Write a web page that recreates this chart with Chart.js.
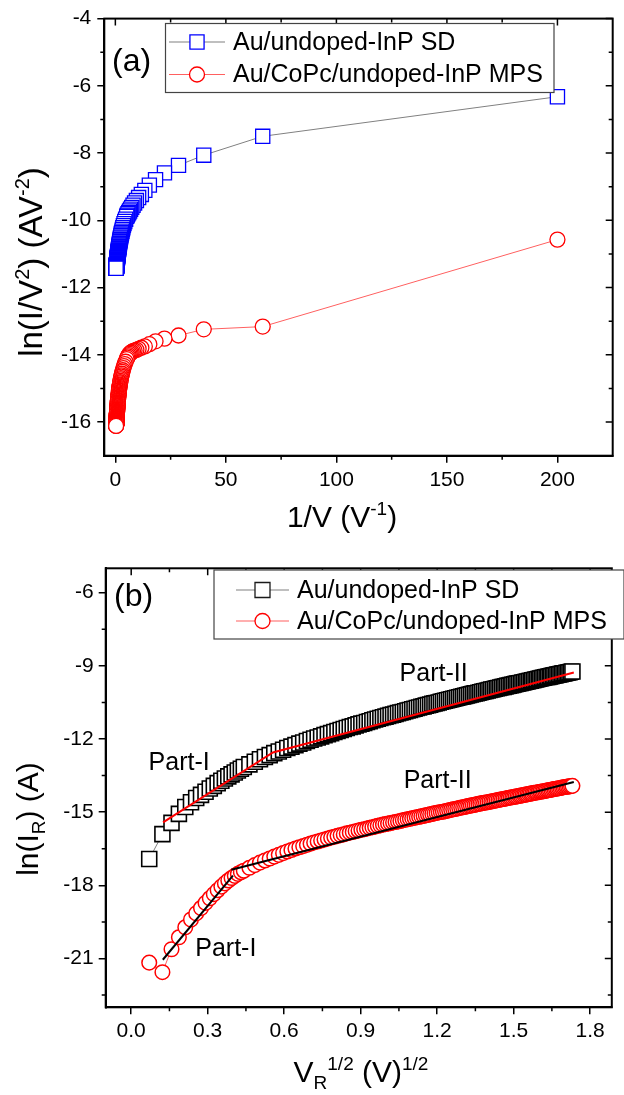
<!DOCTYPE html>
<html>
<head>
<meta charset="utf-8">
<script src="https://cdn.jsdelivr.net/npm/chart.js@4.4.0/dist/chart.umd.min.js"></script>
<style>
  body { margin: 0; background: #fff; width: 624px; height: 1095px; overflow: hidden; }
  #chartA { position: absolute; left: 0; top: 0; }
  #chartB { position: absolute; left: 0; top: 540px; }
</style>
</head>
<body>
<canvas id="chartA" width="624" height="540"></canvas>
<canvas id="chartB" width="624" height="555"></canvas>
<script>
// reverse bias points (V), same sweep for both diodes
const biasV = [
  0.005, 0.015, 0.025, 0.035, 0.045, 0.055, 0.065, 0.075, 0.085, 0.095,
  0.105, 0.115, 0.125, 0.135, 0.145, 0.155, 0.165, 0.175, 0.185, 0.195,
  0.215, 0.235, 0.255, 0.275, 0.295, 0.315, 0.335, 0.355, 0.375, 0.395,
  0.415, 0.435, 0.455, 0.475, 0.495, 0.515, 0.535, 0.555, 0.575, 0.595,
  0.615, 0.635, 0.655, 0.675, 0.695, 0.715, 0.735, 0.755, 0.775, 0.795,
  0.815, 0.835, 0.855, 0.875, 0.895, 0.915, 0.935, 0.955, 0.975, 0.995,
  1.015, 1.035, 1.055, 1.075, 1.095, 1.115, 1.135, 1.155, 1.175, 1.195,
  1.215, 1.235, 1.255, 1.275, 1.295, 1.315, 1.335, 1.355, 1.375, 1.395,
  1.415, 1.435, 1.455, 1.475, 1.495, 1.515, 1.535, 1.555, 1.575, 1.595,
  1.615, 1.635, 1.655, 1.675, 1.695, 1.715, 1.735, 1.755, 1.775, 1.795,
  1.815, 1.835, 1.855, 1.875, 1.895, 1.915, 1.935, 1.955, 1.975, 1.995,
  2.015, 2.035, 2.055, 2.075, 2.095, 2.115, 2.135, 2.155, 2.175, 2.195,
  2.215, 2.235, 2.255, 2.275, 2.295, 2.315, 2.335, 2.355, 2.375, 2.395,
  2.415, 2.435, 2.455, 2.475, 2.495, 2.515, 2.535, 2.555, 2.575, 2.595,
  2.615, 2.635, 2.655, 2.675, 2.695, 2.715, 2.735, 2.755, 2.775, 2.795,
  2.815, 2.835, 2.855, 2.875, 2.895, 2.915, 2.935, 2.955, 2.975, 2.995
];

// ln(I_R) in A, one value per bias point
const lnI_SD = [
  -16.92, -15.90, -15.44, -15.07, -14.79, -14.59, -14.42, -14.29, -14.16, -14.03,
  -13.92, -13.81, -13.71, -13.62, -13.53, -13.45, -13.37, -13.29, -13.22, -13.15,
  -13.04, -12.93, -12.83, -12.74, -12.66, -12.58, -12.51, -12.44, -12.37, -12.31,
  -12.25, -12.19, -12.14, -12.08, -12.03, -11.98, -11.94, -11.89, -11.84, -11.80,
  -11.76, -11.71, -11.67, -11.63, -11.59, -11.55, -11.51, -11.48, -11.44, -11.40,
  -11.37, -11.34, -11.30, -11.27, -11.23, -11.20, -11.17, -11.14, -11.11, -11.08,
  -11.05, -11.02, -11.00, -10.97, -10.94, -10.91, -10.89, -10.86, -10.83, -10.81,
  -10.78, -10.76, -10.73, -10.71, -10.68, -10.66, -10.63, -10.61, -10.59, -10.56,
  -10.54, -10.52, -10.50, -10.47, -10.45, -10.43, -10.41, -10.39, -10.37, -10.35,
  -10.33, -10.31, -10.29, -10.27, -10.25, -10.23, -10.21, -10.19, -10.17, -10.15,
  -10.13, -10.12, -10.10, -10.08, -10.06, -10.04, -10.03, -10.01, -9.99, -9.97,
  -9.96, -9.94, -9.92, -9.91, -9.89, -9.87, -9.86, -9.84, -9.82, -9.81,
  -9.79, -9.78, -9.76, -9.74, -9.73, -9.71, -9.70, -9.68, -9.67, -9.65,
  -9.64, -9.62, -9.61, -9.59, -9.58, -9.56, -9.55, -9.53, -9.52, -9.50,
  -9.49, -9.47, -9.46, -9.45, -9.43, -9.42, -9.40, -9.39, -9.38, -9.36,
  -9.35, -9.34, -9.32, -9.31, -9.30, -9.28, -9.27, -9.26, -9.24, -9.23
];
const lnI_MPS = [
  -21.17, -21.56, -20.62, -20.13, -19.72, -19.40, -19.15, -18.93, -18.72, -18.53,
  -18.36, -18.20, -18.05, -17.92, -17.80, -17.70, -17.61, -17.53, -17.46, -17.40,
  -17.28, -17.17, -17.07, -16.98, -16.90, -16.82, -16.75, -16.68, -16.61, -16.55,
  -16.49, -16.44, -16.39, -16.34, -16.29, -16.24, -16.20, -16.16, -16.12, -16.08,
  -16.04, -16.01, -15.97, -15.94, -15.91, -15.87, -15.84, -15.81, -15.78, -15.75,
  -15.72, -15.70, -15.67, -15.64, -15.62, -15.59, -15.56, -15.54, -15.51, -15.49,
  -15.47, -15.45, -15.42, -15.40, -15.38, -15.36, -15.33, -15.31, -15.29, -15.27,
  -15.25, -15.23, -15.21, -15.19, -15.17, -15.15, -15.13, -15.11, -15.09, -15.07,
  -15.05, -15.03, -15.01, -14.99, -14.98, -14.96, -14.94, -14.92, -14.90, -14.88,
  -14.87, -14.85, -14.83, -14.81, -14.80, -14.78, -14.76, -14.74, -14.73, -14.71,
  -14.70, -14.68, -14.66, -14.65, -14.63, -14.62, -14.60, -14.59, -14.57, -14.56,
  -14.54, -14.53, -14.51, -14.50, -14.48, -14.47, -14.46, -14.44, -14.43, -14.41,
  -14.40, -14.39, -14.37, -14.36, -14.35, -14.33, -14.32, -14.31, -14.29, -14.28,
  -14.27, -14.25, -14.24, -14.23, -14.21, -14.20, -14.19, -14.17, -14.16, -14.15,
  -14.14, -14.13, -14.11, -14.10, -14.09, -14.08, -14.06, -14.05, -14.04, -14.03,
  -14.02, -14.01, -13.99, -13.98, -13.97, -13.96, -13.95, -13.94, -13.93, -13.92
];

// linear fits in the ln(I_R) vs V^1/2 plot (Part-I / Part-II)
const fitSD_x = [0.125, 0.556, 1.736];
const fitSD_y = [-15.42, -12.55, -9.27];
const fitMPS1_x = [0.124, 0.399];
const fitMPS1_y = [-21.05, -17.60];
const fitMPS2_x = [0.393, 1.736];
const fitMPS2_y = [-17.36, -13.76];

const seriesNames = ['Au/undoped-InP SD', 'Au/CoPc/undoped-InP MPS'];

const ticksA_x = [0, 50, 100, 150, 200];
const ticksA_y = [-16, -14, -12, -10, -8, -6, -4];
const minorA_x = [25, 75, 125, 175];
const minorA_y = [-15, -13, -11, -9, -7, -5];
const ticksB_x = [0, 0.3, 0.6, 0.9, 1.2, 1.5, 1.8];
const ticksB_y = [-21, -18, -15, -12, -9, -6];
const minorB_x = [0.15, 0.45, 0.75, 1.05, 1.35, 1.65];
const minorB_y = [-22.5, -19.5, -16.5, -13.5, -10.5, -7.5];

const partText = ['Part-II', 'Part-I', 'Part-II', 'Part-I'];
const partX = [1.186, 0.188, 1.202, 0.371];
const partY = [-9.35, -13.0, -13.72, -20.61];

const FONT = "'Liberation Sans', Arial, sans-serif";
Chart.defaults.font.family = FONT;
Chart.defaults.color = '#000';

// Richardson-type plot: ln(I/V^2) against 1/V
const richSD = biasV.map((v, i) => ({ x: 1 / v, y: lnI_SD[i] - 2 * Math.log(v) }));
const richMPS = biasV.map((v, i) => ({ x: 1 / v, y: lnI_MPS[i] - 2 * Math.log(v) }));
// Schottky-type plot: ln(I_R) against V^1/2
const schSD = biasV.map((v, i) => ({ x: Math.sqrt(v), y: lnI_SD[i] }));
const schMPS = biasV.map((v, i) => ({ x: Math.sqrt(v), y: lnI_MPS[i] }));
const pts = (xs, ys) => xs.map((x, i) => ({ x: x, y: ys[i] }));

function axis(min, max, ticks, fmt, fit, pad) {
  return {
    type: 'linear', min: min, max: max,
    afterBuildTicks: s => { s.ticks = ticks.map(v => ({ value: v })); },
    afterFit: fit,
    ticks: { font: { size: 21 }, color: '#000', padding: pad, callback: fmt },
    grid: { display: true, drawOnChartArea: false, drawTicks: true, tickLength: 7, color: '#000', lineWidth: 1.5 },
    border: { display: true, color: '#000', width: 2 }
  };
}

// text with super/subscripts: parts = [[text, 'sup'|'sub'|''], ...]
function richText(ctx, parts, cx, baseY, size) {
  const small = Math.round(size * 0.62);
  let w = 0;
  parts.forEach(p => {
    ctx.font = (p[1] ? small : size) + 'px ' + FONT;
    w += ctx.measureText(p[0]).width;
  });
  let x = cx - w / 2;
  ctx.textAlign = 'left';
  ctx.textBaseline = 'alphabetic';
  parts.forEach(p => {
    ctx.font = (p[1] ? small : size) + 'px ' + FONT;
    let dy = 0;
    if (p[1] === 'sup') dy = -size * 0.4;
    if (p[1] === 'sub') dy = size * 0.22;
    ctx.fillText(p[0], x, baseY + dy);
    x += ctx.measureText(p[0]).width;
  });
}

function drawFrame(chart, majX, majY, minX, minY) {
  const ctx = chart.ctx, a = chart.chartArea;
  const sx = chart.scales.x, sy = chart.scales.y;
  ctx.save();
  ctx.strokeStyle = '#000';
  ctx.lineWidth = 2;
  ctx.strokeRect(a.left, a.top, a.right - a.left, a.bottom - a.top);
  ctx.lineWidth = 1.5;
  ctx.beginPath();
  majX.forEach(v => { const p = sx.getPixelForValue(v); ctx.moveTo(p, a.top); ctx.lineTo(p, a.top + 7); });
  minX.forEach(v => {
    const p = sx.getPixelForValue(v);
    ctx.moveTo(p, a.bottom); ctx.lineTo(p, a.bottom + 4);
    ctx.moveTo(p, a.top); ctx.lineTo(p, a.top + 4);
  });
  majY.forEach(v => { const p = sy.getPixelForValue(v); ctx.moveTo(a.right, p); ctx.lineTo(a.right - 7, p); });
  minY.forEach(v => {
    const p = sy.getPixelForValue(v);
    ctx.moveTo(a.left, p); ctx.lineTo(a.left - 4, p);
    ctx.moveTo(a.right, p); ctx.lineTo(a.right - 4, p);
  });
  ctx.stroke();
  ctx.restore();
}

function marker(ctx, style, x, y, r, color) {
  ctx.strokeStyle = color;
  ctx.fillStyle = '#fff';
  ctx.lineWidth = 1.3;
  ctx.beginPath();
  if (style === 'rect') {
    const h = r * Math.SQRT1_2;
    ctx.rect(x - h, y - h, 2 * h, 2 * h);
  } else {
    ctx.arc(x, y, r, 0, Math.PI * 2);
  }
  ctx.fill();
  ctx.stroke();
}

// legend box: rows of [line colour, marker style, marker radius, marker colour, label]
function drawLegend(ctx, box, rowsY, lineX, textX, rows) {
  ctx.save();
  ctx.fillStyle = '#fff';
  ctx.fillRect(box[0], box[1], box[2] - box[0], box[3] - box[1]);
  ctx.strokeStyle = '#444';
  ctx.lineWidth = 1.2;
  ctx.strokeRect(box[0], box[1], box[2] - box[0], box[3] - box[1]);
  rows.forEach((r, i) => {
    const y = rowsY[i];
    ctx.strokeStyle = r[0];
    ctx.lineWidth = 1.2;
    ctx.beginPath();
    ctx.moveTo(lineX[0], y);
    ctx.lineTo(lineX[1], y);
    ctx.stroke();
    marker(ctx, r[1], (lineX[0] + lineX[1]) / 2, y, r[2], r[3]);
    ctx.fillStyle = '#000';
    ctx.font = '25px ' + FONT;
    ctx.textAlign = 'left';
    ctx.textBaseline = 'middle';
    ctx.fillText(r[4], textX, y + 1);
  });
  ctx.restore();
}

const decoA = {
  id: 'decoA',
  afterDraw(chart) {
    const ctx = chart.ctx;
    drawFrame(chart, ticksA_x, ticksA_y, minorA_x, minorA_y);
    ctx.save();
    ctx.fillStyle = '#000';
    richText(ctx, [['1/V (V', ''], ['-1', 'sup'], [')', '']], 342, 527, 30);
    ctx.translate(42, 262);
    ctx.rotate(-Math.PI / 2);
    richText(ctx, [['ln(I/V', ''], ['2', 'sup'], [') (AV', ''], ['-2', 'sup'], [')', '']], 0, 0, 33);
    ctx.restore();
    ctx.save();
    ctx.fillStyle = '#000';
    ctx.font = '32px ' + FONT;
    ctx.textAlign = 'left';
    ctx.textBaseline = 'middle';
    ctx.fillText('(a)', 112, 62);
    ctx.restore();
    drawLegend(ctx, [165.5, 23.5, 554, 92.5], [42, 74.5], [169, 225], 233, [
      ['#808080', 'rect', 10, '#0000ff', seriesNames[0]],
      ['#ff6060', 'circle', 7.5, '#ff0000', seriesNames[1]]
    ]);
  }
};

const decoB = {
  id: 'decoB',
  afterDraw(chart) {
    const ctx = chart.ctx, sx = chart.scales.x, sy = chart.scales.y;
    drawFrame(chart, ticksB_x, ticksB_y, minorB_x, minorB_y);
    ctx.save();
    ctx.fillStyle = '#000';
    richText(ctx, [['V', ''], ['R', 'sub'], ['1/2', 'sup'], [' (V)', ''], ['1/2', 'sup']], 361, 542, 30);
    ctx.translate(38, 279);
    ctx.rotate(-Math.PI / 2);
    richText(ctx, [['ln(I', ''], ['R', 'sub'], [') (A)', '']], 0, 0, 30);
    ctx.restore();
    ctx.save();
    ctx.fillStyle = '#000';
    ctx.font = '32px ' + FONT;
    ctx.textAlign = 'left';
    ctx.textBaseline = 'middle';
    ctx.fillText('(b)', 114, 57);
    ctx.font = '25px ' + FONT;
    ctx.textAlign = 'center';
    partText.forEach((t, i) => {
      ctx.fillText(t, sx.getPixelForValue(partX[i]), sy.getPixelForValue(partY[i]));
    });
    ctx.restore();
    drawLegend(ctx, [214, 30, 624, 99], [50, 81], [236, 289], 297, [
      ['#808080', 'rect', 10.6, '#1a1a1a', seriesNames[0]],
      ['#ff6060', 'circle', 7.5, '#ff0000', seriesNames[1]]
    ]);
  }
};

function dataSet(data, style, r, color, lineColor, bw) {
  return {
    data: data, showLine: true, order: 1,
    borderColor: lineColor, borderWidth: 1,
    pointStyle: style, pointRadius: r,
    pointBorderColor: color, pointBackgroundColor: '#fff', pointBorderWidth: bw
  };
}
function fitSet(data, color) {
  return {
    data: data, showLine: true, order: 0,
    borderColor: color, borderWidth: 2, pointRadius: 0
  };
}

const common = {
  responsive: false,
  animation: false,
  events: [],
  plugins: { legend: { display: false }, tooltip: { enabled: false } }
};

new Chart(document.getElementById('chartA'), {
  type: 'scatter',
  data: {
    datasets: [
      dataSet(richSD, 'rect', 10, '#0000ff', '#808080', 1.3),
      dataSet(richMPS, 'circle', 7.5, '#ff0000', '#ff6060', 1.3)
    ]
  },
  options: Object.assign({}, common, {
    layout: { padding: { left: 0, top: 17.7, right: 0.7, bottom: 0 } },
    scales: {
      x: axis(-5, 225, ticksA_x, v => String(v), s => { s.height = 84.3; }, 5),
      y: axis(-17, -4, ticksA_y, v => String(v), s => { s.width = 104.3; }, 6)
    }
  }),
  plugins: [decoA]
});

new Chart(document.getElementById('chartB'), {
  type: 'scatter',
  data: {
    datasets: [
      dataSet(schSD, 'rect', 10.6, '#000', '#808080', 1.6),
      dataSet(schMPS, 'circle', 7.3, '#ff0000', '#ff6060', 1.5),
      fitSet(pts(fitSD_x, fitSD_y), '#ff0000'),
      fitSet(pts(fitMPS1_x, fitMPS1_y), '#000'),
      fitSet(pts(fitMPS2_x, fitMPS2_y), '#000')
    ]
  },
  options: Object.assign({}, common, {
    layout: { padding: { left: 0, top: 28.3, right: 1, bottom: 0 } },
    scales: {
      x: axis(-0.1, 1.885, ticksB_x, v => v.toFixed(1), s => { s.height = 87.7; }, 4),
      y: axis(-23, -5, ticksB_y, v => String(v), s => { s.width = 105.7; }, 5)
    }
  }),
  plugins: [decoB]
});
</script>
</body>
</html>
